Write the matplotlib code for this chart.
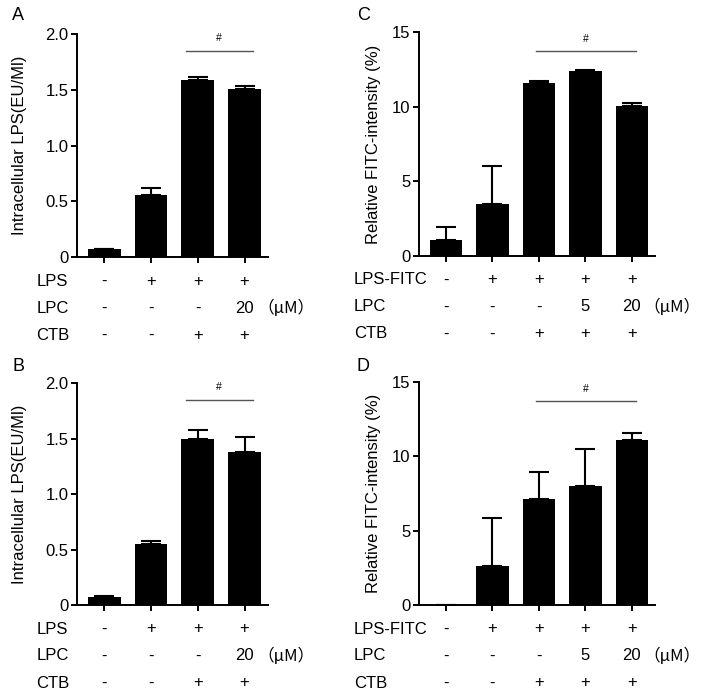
import matplotlib
matplotlib.use('Agg')
import matplotlib.pyplot as plt

plt.rcParams['font.family'] = ['Liberation Sans', 'DejaVu Sans']

# panel A / B : intracellular LPS
lps_rows = ['LPS', 'LPC', 'CTB']
lps_marks = [['-', '+', '+', '+'],
             ['-', '-', '-', '20'],
             ['-', '-', '+', '+']]
a_means = [0.07, 0.56, 1.59, 1.51]
a_errs = [0.005, 0.06, 0.02, 0.02]
b_means = [0.075, 0.55, 1.50, 1.38]
b_errs = [0.01, 0.025, 0.08, 0.13]

# panel C / D : FITC intensity
fitc_rows = ['LPS-FITC', 'LPC', 'CTB']
fitc_marks = [['-', '+', '+', '+', '+'],
              ['-', '-', '-', '5', '20'],
              ['-', '-', '+', '+', '+']]
c_means = [1.1, 3.45, 11.6, 12.4, 10.05]
c_errs = [0.85, 2.55, 0.1, 0.05, 0.2]
d_means = [0.0, 2.6, 7.15, 8.0, 11.1]
d_errs = [0.0, 3.25, 1.8, 2.5, 0.5]


def draw_panel(ax, means, errs, ylim, yticks, yticklabels, ylabel, labelpad,
               rows, marks, sig, sig_y, hash_y, row_x, unit_x, letter):
    n = len(means)
    xs = list(range(n))
    ax.bar(xs, means, width=0.7, color='black', zorder=2)
    ax.errorbar(xs, means, yerr=[[0] * n, errs], fmt='none', ecolor='black',
                elinewidth=1.5, capsize=7.5, capthick=1.5, zorder=1)
    ax.set_ylim(*ylim)
    ax.set_xlim(-0.58, n - 0.5)
    ax.set_yticks(yticks)
    ax.set_yticklabels(yticklabels, fontsize=12)
    ax.set_xticks(xs)
    ax.set_xticklabels([])
    ax.set_ylabel(ylabel, fontsize=12, labelpad=labelpad)
    for s in ['top', 'right']:
        ax.spines[s].set_visible(False)
    for s in ['left', 'bottom']:
        ax.spines[s].set_linewidth(1.4)
    ax.tick_params(axis='both', length=4, width=1.4, pad=2)

    # significance bar
    ax.plot(sig, [sig_y, sig_y], color='#555555', lw=1, clip_on=False)
    ax.text(sum(sig) / 2, hash_y, '#', ha='center', va='center', fontsize=7.5)

    # treatment table under the axis
    offsets = [24, 51, 78]
    for r, (name, row) in enumerate(zip(rows, marks)):
        ax.annotate(name, xy=(row_x, 0), xycoords=('data', 'axes fraction'),
                    xytext=(0, -offsets[r]), textcoords='offset pixels',
                    ha='left', va='center', fontsize=12, annotation_clip=False)
        for x, m in zip(xs, row):
            ax.annotate(m, xy=(x, 0), xycoords=('data', 'axes fraction'),
                        xytext=(0, -offsets[r]), textcoords='offset pixels',
                        ha='center', va='center', fontsize=12, annotation_clip=False)
    ax.annotate('（μM）', xy=(unit_x, 0), xycoords=('data', 'axes fraction'),
                xytext=(0, -offsets[1]), textcoords='offset pixels',
                ha='left', va='center', fontsize=12, annotation_clip=False,
                family=['Noto Sans CJK SC', 'Liberation Sans'])

    ax.figure.text(letter[1], letter[2], letter[0], fontsize=13,
                   ha='left', va='center')


fig = plt.figure(figsize=(7.04, 7.00), dpi=100)
W, H = 704, 700

axA = fig.add_axes([77 / W, 1 - 257 / H, 191 / W, 223 / H])
axB = fig.add_axes([77 / W, 1 - 605 / H, 191 / W, 222 / H])
axC = fig.add_axes([419 / W, 1 - 256 / H, 236 / W, 224 / H])
axD = fig.add_axes([419 / W, 1 - 605 / H, 236 / W, 223 / H])

draw_panel(axA, a_means, a_errs, (0, 2.0), [0, 0.5, 1.0, 1.5, 2.0],
           ['0', '0.5', '1.0', '1.5', '2.0'], 'Intracellular LPS(EU/Ml)', 13,
           lps_rows, lps_marks, [1.75, 3.17], 1.85, 1.96, -1.45, 3.28,
           ('A', 12 / W, 1 - 16 / H))
draw_panel(axB, b_means, b_errs, (0, 2.0), [0, 0.5, 1.0, 1.5, 2.0],
           ['0', '0.5', '1.0', '1.5', '2.0'], 'Intracellular LPS(EU/Ml)', 13,
           lps_rows, lps_marks, [1.75, 3.17], 1.85, 1.96, -1.45, 3.28,
           ('B', 12 / W, 1 - 366 / H))
draw_panel(axC, c_means, c_errs, (0, 15), [0, 5, 10, 15],
           ['0', '5', '10', '15'], 'Relative FITC-intensity (%)', 8,
           fitc_rows, fitc_marks, [1.94, 4.09], 13.7, 14.5, -1.98, 4.24,
           ('C', 357 / W, 1 - 16 / H))
draw_panel(axD, d_means, d_errs, (0, 15), [0, 5, 10, 15],
           ['0', '5', '10', '15'], 'Relative FITC-intensity (%)', 8,
           fitc_rows, fitc_marks, [1.94, 4.09], 13.7, 14.5, -1.98, 4.24,
           ('D', 357 / W, 1 - 366 / H))

fig.savefig('out.png', dpi=100)
